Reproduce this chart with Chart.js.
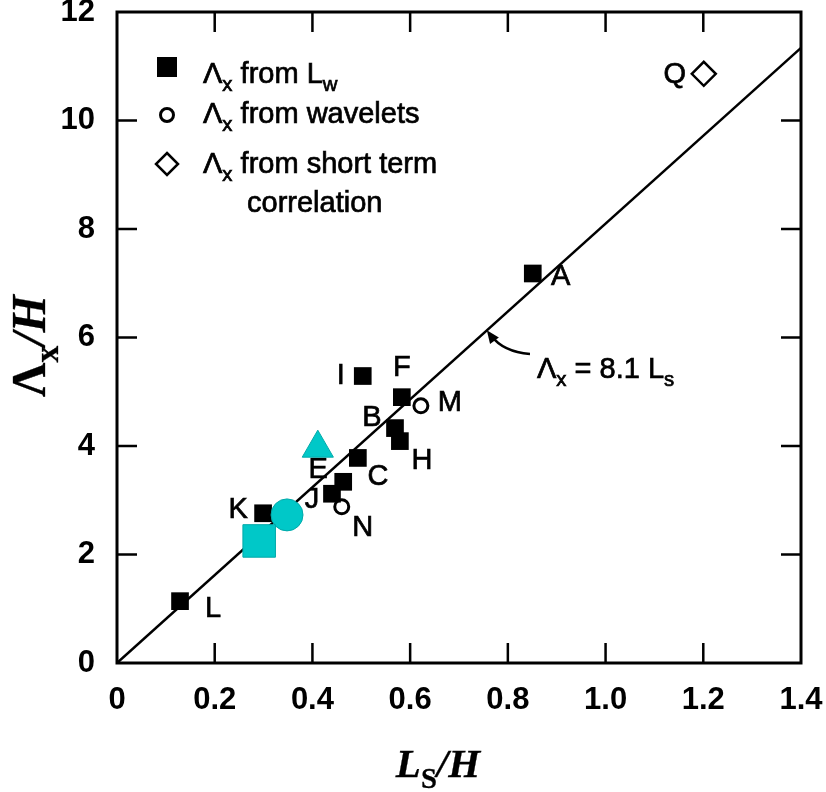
<!DOCTYPE html>
<html lang="en">
<head>
<meta charset="UTF-8">
<title>Lambda_x / H against L_s / H</title>
<script src="https://cdn.jsdelivr.net/npm/chart.js"></script>
<style>
  html, body { margin: 0; padding: 0; background: #fff; }
</style>
</head>
<body>
<canvas id="chart" width="826" height="792"></canvas>
<script>
// Lambda_x from L_w (filled squares)
const lwNames = ['L', 'K', 'J', 'E', 'C', 'I', 'B', 'H', 'F', 'A'];
const lwX = [0.129, 0.299, 0.440, 0.463, 0.493, 0.503, 0.569, 0.579, 0.583, 0.851];
const lwY = [1.14, 2.76, 3.12, 3.34, 3.78, 5.29, 4.33, 4.09, 4.90, 7.18];

// Lambda_x from wavelets (open circles)
const wvNames = ['N', 'M'];
const wvX = [0.460, 0.622];
const wvY = [2.88, 4.74];

// Lambda_x from short term correlation (open diamond)
const stNames = ['Q'];
const stX = [1.201];
const stY = [10.86];

// extra cyan markers
const cyanSqX = [0.291];
const cyanSqY = [2.25];
const cyanCircX = [0.348];
const cyanCircY = [2.73];
const cyanTriX = [0.411];
const cyanTriY = [3.96];

// fitted line  Lambda_x = 8.1 L_s
const fitSlope = 8.1;
const fitRange = [0, 1.4];

const xTicks = [0, 0.2, 0.4, 0.6, 0.8, 1.0, 1.2, 1.4];
const yTicks = [0, 2, 4, 6, 8, 10, 12];

const SANS = '"Liberation Sans", Arial, Helvetica, sans-serif';
const SERIF = '"Liberation Serif", "Times New Roman", serif';
const CYAN = '#00c8c8';

const pts = (xs, ys) => xs.map((x, i) => ({ x: x, y: ys[i] }));

// where each point's letter sits, relative to the marker (px)
const labelOffsets = {
  L: [33, 8], K: [-25, -3], J: [-20, 6], E: [-25, -12], C: [20, 19],
  I: [-22, 0], B: [-23, -10], H: [22, 20], F: [0, -29], A: [28, 4],
  N: [21, 21], M: [29, -3], Q: [-29, 1]
};

// fill text with a thin outline so it reads as heavy as the printed labels
function heavyText(ctx, t, x, y) {
  ctx.fillText(t, x, y);
  ctx.strokeText(t, x, y);
}

// text with subscripts: parts = [[text, isSub, fontStyle]]
function drawParts(ctx, parts, x, y, size, family, weight, measureOnly) {
  let cx = x;
  parts.forEach(p => {
    const sub = p[1];
    const s = sub ? size * 0.7 : size;
    ctx.font = (p[2] || 'normal') + ' ' + weight + ' ' + s + 'px ' + family;
    if (!measureOnly) heavyText(ctx, p[0], cx, y + (sub ? size * 0.27 : 0));
    cx += ctx.measureText(p[0]).width;
  });
  return cx - x;
}

const decorations = {
  id: 'decorations',
  beforeDatasetsDraw(chart) {
    const ctx = chart.ctx;
    const xs = chart.scales.x, ys = chart.scales.y;
    ctx.save();
    ctx.fillStyle = '#000';
    ctx.strokeStyle = '#000';
    ctx.lineWidth = 0.7;
    ctx.textAlign = 'center';
    ctx.textBaseline = 'middle';
    ctx.font = 'normal 29px ' + SANS;
    const put = (names, X, Y) => names.forEach((n, i) => {
      const o = labelOffsets[n] || [0, 0];
      heavyText(ctx, n, xs.getPixelForValue(X[i]) + o[0], ys.getPixelForValue(Y[i]) + o[1]);
    });
    put(lwNames, lwX, lwY);
    put(wvNames, wvX, wvY);
    put(stNames, stX, stY);
    ctx.restore();
  },
  afterDraw(chart) {
    const ctx = chart.ctx;
    const a = chart.chartArea;
    const xs = chart.scales.x, ys = chart.scales.y;
    ctx.save();

    // frame
    ctx.strokeStyle = '#000';
    ctx.lineWidth = 3;
    ctx.strokeRect(a.left, a.top, a.right - a.left, a.bottom - a.top);

    // inward ticks on all four sides
    const tl = 20;
    ctx.lineWidth = 2.5;
    ctx.beginPath();
    xTicks.slice(1, -1).forEach(v => {
      const px = xs.getPixelForValue(v);
      ctx.moveTo(px, a.bottom); ctx.lineTo(px, a.bottom - tl);
      ctx.moveTo(px, a.top); ctx.lineTo(px, a.top + tl);
    });
    yTicks.slice(1, -1).forEach(v => {
      const py = ys.getPixelForValue(v);
      ctx.moveTo(a.left, py); ctx.lineTo(a.left + tl, py);
      ctx.moveTo(a.right, py); ctx.lineTo(a.right - tl, py);
    });
    ctx.stroke();

    // legend
    ctx.fillStyle = '#000';
    ctx.fillRect(157, 57, 20, 20);
    ctx.lineWidth = 3;
    ctx.beginPath();
    ctx.arc(167, 115, 6.5, 0, Math.PI * 2);
    ctx.stroke();
    ctx.lineWidth = 2.5;
    ctx.beginPath();
    ctx.moveTo(167, 153); ctx.lineTo(178, 164); ctx.lineTo(167, 175); ctx.lineTo(156, 164);
    ctx.closePath();
    ctx.stroke();

    ctx.lineWidth = 0.7;
    ctx.textAlign = 'left';
    ctx.textBaseline = 'alphabetic';
    drawParts(ctx, [['\u039B'], ['x', true], [' from L'], ['w', true]], 203, 83, 29, SANS, 'normal');
    drawParts(ctx, [['\u039B'], ['x', true], [' from wavelets']], 203, 123, 29, SANS, 'normal');
    drawParts(ctx, [['\u039B'], ['x', true], [' from short term']], 203, 173, 29, SANS, 'normal');
    drawParts(ctx, [['correlation']], 247, 212, 29, SANS, 'normal');

    // curved arrow to the fitted line
    const tipX = xs.getPixelForValue(0.757);
    const tipY = ys.getPixelForValue(fitSlope * 0.757);
    const sx = 530, sy = 354;
    ctx.lineWidth = 2.5;
    ctx.beginPath();
    ctx.moveTo(sx, sy);
    ctx.quadraticCurveTo(503, 352, tipX + 4, tipY + 5);
    ctx.stroke();
    const ang = Math.atan2(tipY + 5 - 352, tipX + 4 - 503);
    ctx.beginPath();
    ctx.moveTo(tipX, tipY);
    ctx.lineTo(tipX - 14 * Math.cos(ang - 0.4), tipY - 14 * Math.sin(ang - 0.4));
    ctx.lineTo(tipX - 14 * Math.cos(ang + 0.4), tipY - 14 * Math.sin(ang + 0.4));
    ctx.closePath();
    ctx.fill();

    ctx.lineWidth = 0.7;
    drawParts(ctx, [['\u039B'], ['x', true], [' = ' + fitSlope + ' L'], ['s', true]], 537, 378, 29, SANS, 'normal');

    // axis titles
    ctx.lineWidth = 0.3;
    const xParts = [['L', false, 'italic'], ['S', true], ['/H', false, 'italic']];
    const xw = drawParts(ctx, xParts, 0, 0, 41, SERIF, 'bold', true);
    drawParts(ctx, xParts, 438 - xw / 2, 777, 41, SERIF, 'bold');

    ctx.translate(45, 346);
    ctx.rotate(-Math.PI / 2);
    const yParts = [['\u039B'], ['x', true], ['/H', false, 'italic']];
    const yw = drawParts(ctx, yParts, 0, 0, 48, SERIF, 'bold', true);
    drawParts(ctx, yParts, -yw / 2, 0, 48, SERIF, 'bold');
    ctx.restore();
  }
};

new Chart(document.getElementById('chart'), {
  type: 'scatter',
  data: {
    datasets: [
      {
        data: pts(cyanSqX, cyanSqY), pointStyle: 'rect', pointRadius: 23,
        backgroundColor: CYAN, borderColor: '#00a9a9', borderWidth: 1, order: 0
      },
      {
        data: pts(cyanCircX, cyanCircY), pointStyle: 'circle', pointRadius: 16,
        backgroundColor: CYAN, borderColor: '#00a9a9', borderWidth: 1, order: 0
      },
      {
        data: pts(cyanTriX, cyanTriY), pointStyle: 'triangle', pointRadius: 18,
        backgroundColor: CYAN, borderColor: '#00a9a9', borderWidth: 1, order: 0
      },
      {
        data: pts(lwX, lwY), pointStyle: 'rect', pointRadius: 12.5,
        backgroundColor: '#000', borderColor: '#000', borderWidth: 0, order: 1
      },
      {
        data: pts(wvX, wvY), pointStyle: 'circle', pointRadius: 7,
        backgroundColor: '#fff', borderColor: '#000', borderWidth: 3, order: 1
      },
      {
        data: pts(stX, stY), pointStyle: 'rectRot', pointRadius: 12,
        backgroundColor: '#fff', borderColor: '#000', borderWidth: 2.5, order: 1
      },
      {
        data: fitRange.map(x => ({ x: x, y: fitSlope * x })),
        showLine: true, pointRadius: 0, borderColor: '#000', borderWidth: 2.5, order: 2
      }
    ]
  },
  options: {
    responsive: false,
    animation: false,
    events: [],
    layout: { autoPadding: false, padding: { top: 12, right: 25, left: 0, bottom: 0 } },
    plugins: { legend: { display: false }, tooltip: { enabled: false } },
    scales: {
      x: {
        type: 'linear', min: 0, max: 1.4,
        grid: { display: false, drawTicks: false },
        border: { display: false },
        afterBuildTicks: s => { s.ticks = xTicks.map(v => ({ value: v })); },
        afterFit: s => { s.height = 129; s.paddingLeft = 0; s.paddingRight = 0; },
        ticks: {
          padding: 22, color: '#000', maxRotation: 0, autoSkip: false,
          font: { family: SANS, size: 31, weight: 'bold', lineHeight: 1 },
          callback: v => (v === 0 ? '0' : v.toFixed(1))
        }
      },
      y: {
        type: 'linear', min: 0, max: 12,
        grid: { display: false, drawTicks: false },
        border: { display: false },
        afterBuildTicks: s => { s.ticks = yTicks.map(v => ({ value: v })); },
        afterFit: s => { s.width = 117; s.paddingTop = 0; s.paddingBottom = 0; },
        ticks: {
          padding: 22, color: '#000', autoSkip: false,
          font: { family: SANS, size: 31, weight: 'bold', lineHeight: 1 },
          callback: v => String(v)
        }
      }
    }
  },
  plugins: [decorations]
});
</script>
</body>
</html>
